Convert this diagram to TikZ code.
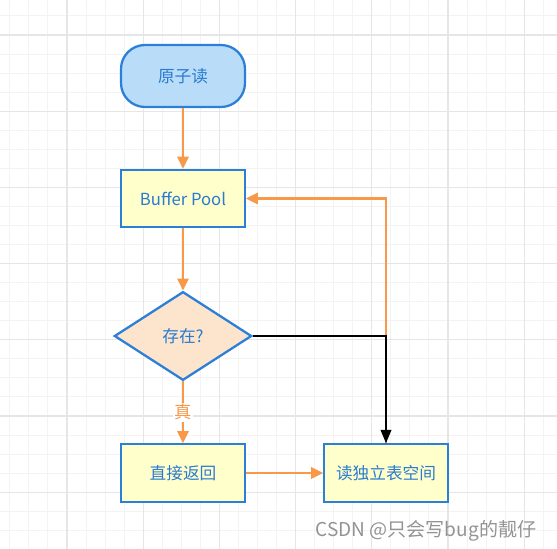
\documentclass[tikz,border=0pt]{standalone}
\usepackage{fontspec}
\setmainfont{Noto Sans CJK SC}
\usetikzlibrary{shapes.geometric,arrows.meta}
\definecolor{ndblue}{HTML}{2B7FD7}
\definecolor{txtblue}{HTML}{2A7AD0}
\definecolor{startfill}{HTML}{B9DDF8}
\definecolor{boxfill}{HTML}{FFFFCC}
\definecolor{decfill}{HTML}{FDE4CC}
\definecolor{flowor}{HTML}{F8994A}
\definecolor{gridmin}{HTML}{F3F3F3}
\definecolor{gridmaj}{HTML}{E6E6E6}
\tikzstyle{startnd}=[rectangle,rounded corners=18pt,draw=ndblue,fill=startfill,line width=1.7pt,minimum width=93pt,minimum height=46.5pt,text=txtblue,font=\fontsize{12.5pt}{14pt}\selectfont]
\tikzstyle{boxnd}=[rectangle,draw=ndblue,fill=boxfill,line width=1.7pt,minimum width=92.5pt,minimum height=43pt,text=txtblue,font=\fontsize{12.5pt}{14pt}\selectfont]
\tikzstyle{decnd}=[diamond,draw=ndblue,fill=decfill,line width=1.7pt,minimum width=103pt,minimum height=66.5pt,inner sep=0pt,text=txtblue,font=\fontsize{12.5pt}{14pt}\selectfont]
\tikzstyle{flow}=[draw=flowor,line width=1.6pt,-{Triangle[length=9pt,width=8.5pt]}]
\tikzstyle{noflow}=[draw=black,line width=1.2pt,-{Triangle[length=10pt,width=8pt]}]
\tikzstyle{truelbl}=[fill=white,inner sep=1pt,text=flowor,font=\fontsize{13pt}{14pt}\selectfont]

\begin{document}
\begin{tikzpicture}[x=0.75pt,y=-0.75pt]
\useasboundingbox (0,0) rectangle (557,549);
% grid
\foreach \i in {0,...,29} \draw[gridmin,line width=0.75pt] ({9.85+19.05*\i},0) -- ({9.85+19.05*\i},549);
\foreach \i in {0,...,28} \draw[gridmin,line width=0.75pt] (0,{15.95+19.05*\i}) -- (557,{15.95+19.05*\i});
\foreach \i in {0,...,7} \draw[gridmaj,line width=0.9pt] ({67+76.2*\i},0) -- ({67+76.2*\i},549);
\foreach \i in {0,...,7} \draw[gridmaj,line width=0.9pt] (0,{35+76.2*\i}) -- (557,{35+76.2*\i});

\node[startnd] (start) at (183,76) {原子读};
\node[boxnd] (buf) at (183,198.5) {Buffer Pool};
\node[decnd] (dec) at (183,336) {存在?};
\node[boxnd] (ret) at (183,473) {直接返回};
\node[boxnd] (rd) at (386,473) {读独立表空间};

\draw[flow] (start) -- (buf);
\draw[flow] (buf) -- (dec);
\draw[flow] (dec) -- node[truelbl] {真} (ret);
\draw[flow] (ret) -- (rd);
\draw[flow] (rd.north) |- (buf.east);
\draw[noflow] (dec.east) -| (rd.north);

\node[anchor=base east,text=gray!85,font=\fontsize{14.3pt}{16pt}\selectfont] (mark) at (541,536) {CSDN @只会写bug的靓仔};
\end{tikzpicture}
\end{document}
